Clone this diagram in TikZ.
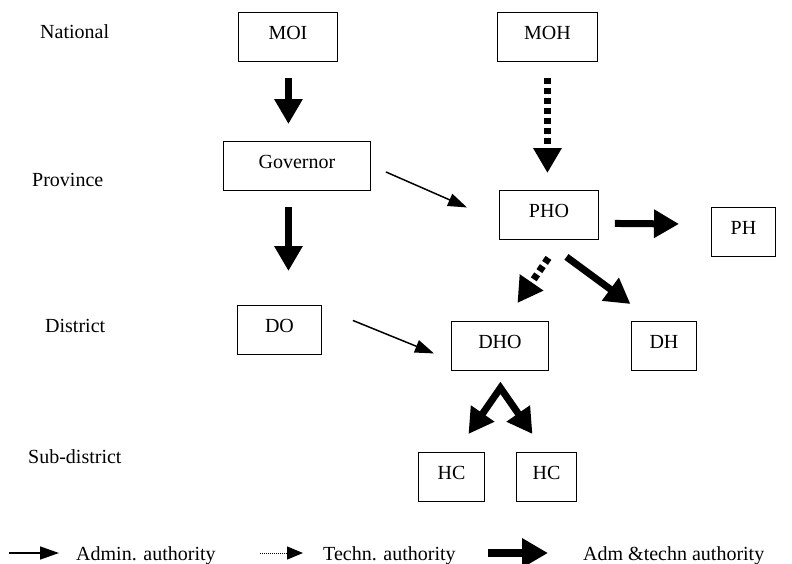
\documentclass[tikz,border=0pt]{standalone}
\usepackage{fontspec}
\setmainfont{Liberation Serif}
\usetikzlibrary{arrows.meta,calc}
\tikzset{
  every node/.style={font=\fontsize{20}{24}\selectfont},
  box/.style={draw, line width=0.9pt, anchor=north west, inner xsep=0pt, inner ysep=5pt,
              text height=22pt, text depth=17pt},
  lvl/.style={anchor=base west, inner sep=0pt},
  admarrow/.style={line width=1.5pt, -{Triangle[length=19pt,width=13pt]}},
  bigarrow/.style={line width=7pt, -{Triangle[length=25pt,width=27pt]}},
  dotbig/.style={bigarrow, dash pattern=on 6pt off 4pt},
  techarrow/.style={line width=1pt, dash pattern=on 1pt off 1pt, -{Triangle[length=16pt,width=13pt]}},
}
\begin{document}
\begin{tikzpicture}[x=1pt,y=-1pt]
\useasboundingbox (0,0) rectangle (792,563);
% level labels
\node[lvl] (lNat) at (40,38) {National};
\node[lvl] (lProv) at (32,186) {Province};
\node[lvl] (lDist) at (45,332) {District};
\node[lvl] (lSub) at (28,463) {Sub-district};
% boxes
\node[box, minimum width=99pt] (MOI) at (238,12) {MOI};
\node[box, minimum width=100pt] (MOH) at (497,12) {MOH};
\node[box, minimum width=147pt] (Gov) at (223,141) {Governor};
\node[box, minimum width=99pt] (PHO) at (499,190) {PHO};
\node[box, minimum width=64pt] (PH) at (711,207) {PH};
\node[box, minimum width=84pt] (DO) at (237,305) {DO};
\node[box, minimum width=97pt] (DHO) at (451,321) {DHO};
\node[box, minimum width=65pt] (DH) at (631,321) {DH};
\node[box, minimum width=66pt] (HCa) at (418,452) {HC};
\node[box, minimum width=60pt] (HCb) at (516,452) {HC};
% connectors
\draw[bigarrow] ($(MOI.south)+(0.5,16)$) -- ($(Gov.north)+(-8.5,-17)$);
\draw[dotbig] ($(MOH.south)+(0,16)$) -- ($(PHO.north)+(-1.5,-17)$);
\draw[bigarrow] ($(Gov.south)+(-8.5,16)$) -- ($(DO.north)+(9,-34)$);
\draw[admarrow] ($(Gov.east)+(15,6)$) -- ($(PHO.west)+(-32,-7.5)$);
\draw[bigarrow] ($(PHO.east)+(16,8.5)$) -- ($(PH.west)+(-32,-8)$);
\draw[dotbig] ($(PHO.south)+(-0.5,18)$) -- ($(DHO.north)+(17.5,-18)$);
\draw[bigarrow] ($(PHO.south)+(17.5,17)$) -- ($(DH.north)+(-33.5,-17)$);
\draw[admarrow] ($(DO.east)+(31,-9.5)$) -- ($(DHO.west)+(-17,7.5)$);
\draw[line width=7pt, miter limit=10, {Triangle[length=25pt,width=27pt]}-{Triangle[length=25pt,width=27pt]}]
  ($(HCa.north)+(17,-18)$) -- ($(DHO.south)+(0.5,17)$) -- ($(HCb.north)+(-14,-18)$);
% legend
\node[lvl] (legA) at (76,560) {Admin. authority};
\node[lvl] (legT) at (323,560) {Techn. authority};
\node[lvl] (legB) at (583,560) {Adm \&techn authority};
\coordinate (la1) at (9,553);
\coordinate (la2) at (59,553);
\coordinate (lt1) at (260,553);
\coordinate (lt2) at (303,553);
\coordinate (lb1) at (488,553);
\coordinate (lb2) at (548,553);
\draw[admarrow] (la1) -- (la2);
\draw[techarrow] (lt1) -- (lt2);
\draw[line width=8pt, -{Triangle[length=26pt,width=28pt]}] (lb1) -- (lb2);
\end{tikzpicture}
\end{document}
